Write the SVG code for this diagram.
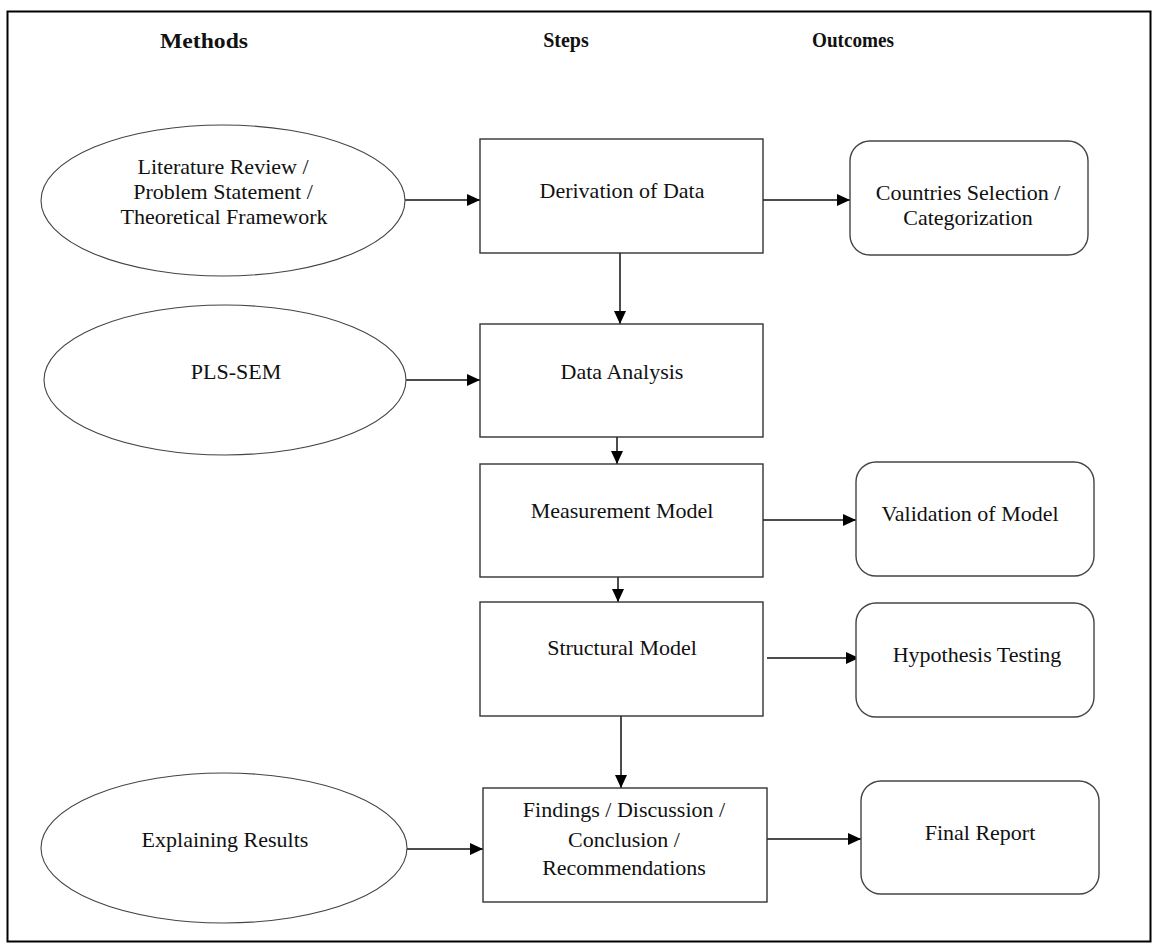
<svg xmlns="http://www.w3.org/2000/svg" width="1159" height="952" viewBox="0 0 1159 952">
<style>
.hdr{font-family:"Liberation Serif","Times New Roman",serif;font-weight:bold;font-size:20px;fill:#111;text-anchor:middle}
.t{font-family:"Liberation Serif","Times New Roman",serif;font-size:22px;fill:#111;text-anchor:middle}
.box{fill:#fff;stroke:#333;stroke-width:1.4}
.rbox{fill:#fff;stroke:#444;stroke-width:1.4}
.ell{fill:#fff;stroke:#444;stroke-width:1.1}
.con{fill:none;stroke:#111;stroke-width:1.5;marker-end:url(#ah)}
</style>
<defs>
<marker id="ah" markerWidth="13" markerHeight="12" refX="13" refY="6" orient="auto" markerUnits="userSpaceOnUse">
<path d="M0,0 L13,6 L0,12 Z" fill="#000"/>
</marker>
</defs>
<rect x="0" y="0" width="1159" height="952" fill="#fff"/>
<rect x="7.5" y="11.5" width="1143" height="930" fill="none" stroke="#000" stroke-width="2"/>
<g id="headers">
<text class="hdr" x="204" y="48" font-size="21" textLength="88" lengthAdjust="spacingAndGlyphs">Methods</text>
<text class="hdr" x="566" y="47">Steps</text>
<text class="hdr" x="853" y="47" textLength="82" lengthAdjust="spacingAndGlyphs">Outcomes</text>
</g>
<g id="connectors">
<line class="con" x1="405" y1="200" x2="480" y2="200"/>
<line class="con" x1="763" y1="200" x2="850" y2="200"/>
<line class="con" x1="620" y1="253" x2="620" y2="324"/>
<line class="con" x1="406" y1="380" x2="480" y2="380"/>
<line class="con" x1="617" y1="437" x2="617" y2="464"/>
<line class="con" x1="763" y1="520" x2="856" y2="520"/>
<line class="con" x1="618" y1="577" x2="618" y2="602"/>
<line class="con" x1="767" y1="658" x2="859" y2="658"/>
<line class="con" x1="621" y1="716" x2="621" y2="788"/>
<line class="con" x1="407" y1="849" x2="483" y2="849"/>
<line class="con" x1="767" y1="839" x2="861" y2="839"/>
</g>
<g id="literature">
<ellipse class="ell" cx="223" cy="200.5" rx="182" ry="75.5"/>
<text class="t" x="223" y="174">Literature Review /</text>
<text class="t" x="223" y="199">Problem Statement /</text>
<text class="t" x="224" y="224">Theoretical Framework</text>
</g>
<g id="plssem">
<ellipse class="ell" cx="225" cy="380" rx="181" ry="75"/>
<text class="t" x="236" y="379">PLS-SEM</text>
</g>
<g id="explaining">
<ellipse class="ell" cx="224" cy="848" rx="183" ry="75"/>
<text class="t" x="225" y="847">Explaining Results</text>
</g>
<g id="derivation">
<rect class="box" x="480" y="139" width="283" height="114"/>
<text class="t" x="622" y="198">Derivation of Data</text>
</g>
<g id="analysis">
<rect class="box" x="480" y="324" width="283" height="113"/>
<text class="t" x="622" y="379">Data Analysis</text>
</g>
<g id="measurement">
<rect class="box" x="480" y="464" width="283" height="113"/>
<text class="t" x="622" y="518">Measurement Model</text>
</g>
<g id="structural">
<rect class="box" x="480" y="602" width="283" height="114"/>
<text class="t" x="622" y="655">Structural Model</text>
</g>
<g id="findings">
<rect class="box" x="483" y="788" width="284" height="114"/>
<text class="t" x="624" y="817">Findings / Discussion /</text>
<text class="t" x="624" y="847">Conclusion /</text>
<text class="t" x="624" y="875">Recommendations</text>
</g>
<g id="countries">
<rect class="rbox" x="850" y="141" width="238" height="114" rx="20" ry="20"/>
<text class="t" x="968" y="200">Countries Selection /</text>
<text class="t" x="968" y="225">Categorization</text>
</g>
<g id="validation">
<rect class="rbox" x="856" y="462" width="238" height="114" rx="20" ry="20"/>
<text class="t" x="970" y="521">Validation of Model</text>
</g>
<g id="hypothesis">
<rect class="rbox" x="856" y="603" width="238" height="114" rx="20" ry="20"/>
<text class="t" x="977" y="662">Hypothesis Testing</text>
</g>
<g id="final">
<rect class="rbox" x="861" y="781" width="238" height="113" rx="20" ry="20"/>
<text class="t" x="980" y="840">Final Report</text>
</g>
</svg>
